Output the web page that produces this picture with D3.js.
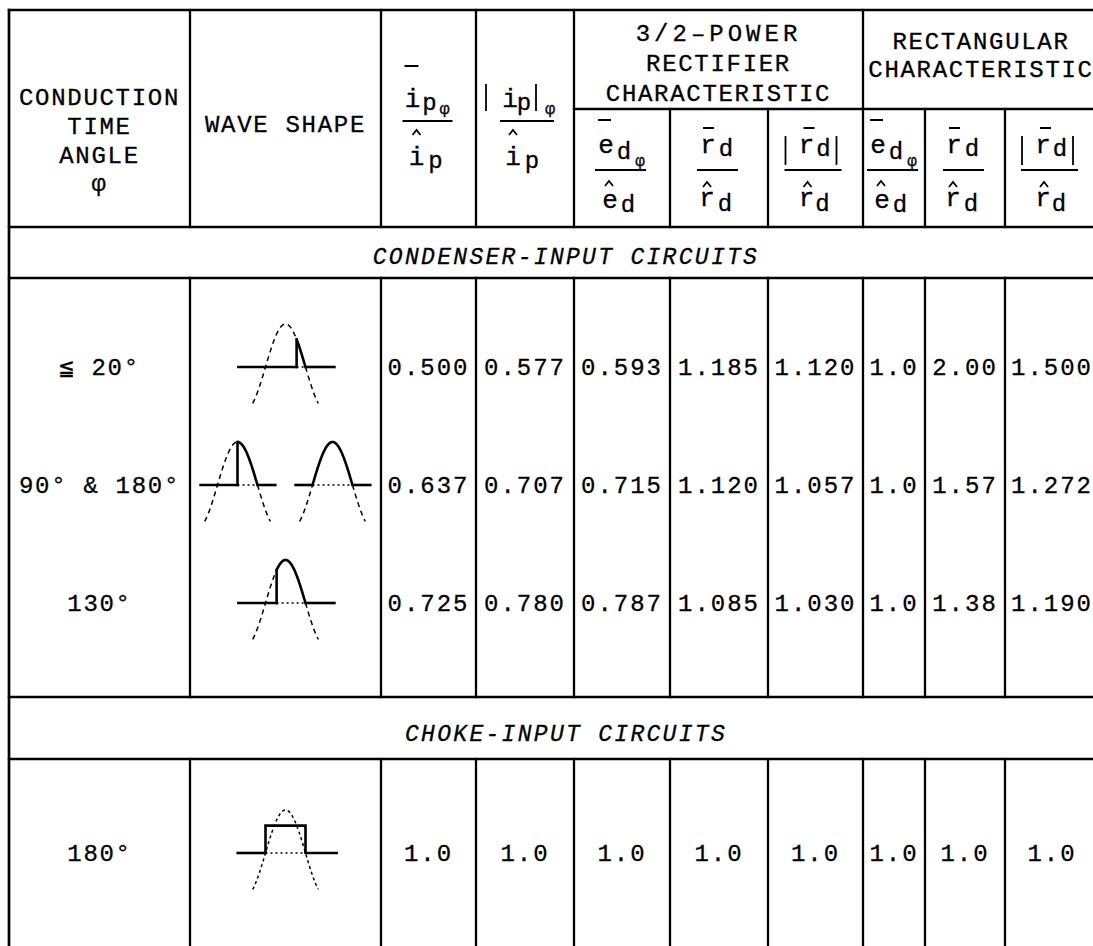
<!DOCTYPE html>
<html><head><meta charset="utf-8">
<script src="https://cdn.jsdelivr.net/npm/d3@7"></script>
<style>body{margin:0;background:#fff}</style>
</head><body>
<svg id="c" width="1093" height="946"></svg>
<script>
// ---------------- data ----------------
const headerLeft = ["CONDUCTION", "TIME", "ANGLE", "φ"];
const headerWave = ["WAVE SHAPE"];
const header32 = ["3/2–POWER", "RECTIFIER", "CHARACTERISTIC"];
const headerRect = ["RECTANGULAR", "CHARACTERISTIC"];
const bandLabels = ["CONDENSER-INPUT CIRCUITS", "CHOKE-INPUT CIRCUITS"];
const condenserAngles = ["≦ 20°", "90° & 180°", "130°"];
const chokeAngles = ["180°"];

const ipMean     = [0.500, 0.637, 0.725];
const ipRms      = [0.577, 0.707, 0.780];
const pow32Ed    = [0.593, 0.715, 0.787];
const pow32Rd    = [1.185, 1.120, 1.085];
const pow32RdAbs = [1.120, 1.057, 1.030];
const rectEd     = [1.0, 1.0, 1.0];
const rectRd     = [2.00, 1.57, 1.38];
const rectRdAbs  = [1.500, 1.272, 1.190];
const colDecimals = [3, 3, 3, 3, 3, 1, 2, 3];
const chokeValues = [1.0, 1.0, 1.0, 1.0, 1.0, 1.0, 1.0, 1.0];
const chokeDecimals = 1;
// conduction intervals (degrees from the crest) for the wave sketches
const condenserWaves = [[[50, 90]], [[0, 90], [-90, 90]], [[-40, 90]]];
const chokeWaves = [[[-90, 90]]];

// ---------------- layout ----------------
const svg = d3.select("#c");
const FONT = "'Liberation Mono','Courier New',monospace";
const X = [9, 190, 381, 476, 574, 670, 768, 863, 925, 1005, 1099];
const W = 1093;
const yTop = 10, ySub = 109, yHead = 227, yBand1 = 278, yBand2a = 697, yBand2b = 759, yBot = 960;
const LW = 2.3;
const FS = 24;

function line(x1, y1, x2, y2, w = LW, dash = null) {
  const l = svg.append("line").attr("x1", x1).attr("y1", y1).attr("x2", x2).attr("y2", y2)
    .attr("stroke", "#000").attr("stroke-width", w).attr("stroke-linecap", "square");
  if (dash) l.attr("stroke-dasharray", dash).attr("stroke-linecap", "butt");
  return l;
}
function txt(x, y, s, size = FS, opt = {}) {
  return svg.append("text").attr("x", x).attr("y", y)
    .attr("text-anchor", opt.anchor || "middle")
    .attr("font-family", FONT).attr("font-size", size)
    .attr("font-style", opt.italic ? "italic" : "normal")
    .attr("letter-spacing", opt.ls != null ? opt.ls : 1.7)
    .attr("fill", "#000").attr("stroke", "#000").attr("stroke-width", opt.sw != null ? opt.sw : 0.3)
    .text(s);
}
// centered text (caps / digits)
function ctxt(x, cy, s, size = FS, opt = {}) { return txt(x, cy + size * 0.35, s, size, opt); }

// ---------------- grid ----------------
line(X[0], yTop, W + 5, yTop);
line(X[4], ySub, W + 5, ySub);
[yHead, yBand1, yBand2a, yBand2b].forEach(y => line(X[0], y, W + 5, y));
line(X[0], yTop, X[0], yBot, 2.7);
[1, 2, 3, 4, 7].forEach(i => line(X[i], yTop, X[i], yHead));
[5, 6, 8, 9].forEach(i => line(X[i], ySub, X[i], yHead));
for (let i = 1; i <= 9; i++) {
  line(X[i], yBand1, X[i], yBand2a);
  line(X[i], yBand2b, X[i], yBot);
}

// ---------------- header ----------------
const mid = i => (X[i] + X[i + 1]) / 2;
const hLeftY = d3.scalePoint().domain(headerLeft).range([97, 183]);
headerLeft.forEach(s => ctxt(mid(0), hLeftY(s), s));
ctxt(mid(1), 124, headerWave[0]);
const h32Y = d3.scalePoint().domain(header32).range([33, 93]);
header32.forEach(s => ctxt((X[4] + X[7]) / 2, h32Y(s), s, FS, {ls: s.startsWith("3/2") ? 4 : 1.7}));
const hRectY = d3.scalePoint().domain(headerRect).range([41, 69]);
headerRect.forEach(s => ctxt((X[7] + X[10]) / 2, hRectY(s), s));

function hat(x, y) {
  svg.append("path").attr("d", `M${x - 4},${y + 5}L${x},${y}L${x + 4},${y + 5}`)
    .attr("fill", "none").attr("stroke", "#000").attr("stroke-width", 1.8);
}
function vbar(x, y1, y2) { line(x, y1, x, y2, 1.8); }

// main header fractions
(function () {
  const c = mid(2);
  txt(c - 16, 107, "i", 26, {ls: 0}); line(c - 23, 66, c - 11, 66, 2);
  txt(c + 1, 110, "p", 24, {ls: 0}); txt(c + 16, 114, "φ", 17, {ls: 0, sw: 0.3});
  line(c - 25, 121, c + 23, 121, 2);
  hat(c - 12, 130); txt(c - 12, 165, "i", 26, {ls: 0}); txt(c + 7, 168, "p", 24, {ls: 0});
})();
(function () {
  const c = mid(3);
  vbar(c - 39, 85, 110);
  txt(c - 15, 107, "i", 26, {ls: 0}); txt(c - 1, 110, "p", 24, {ls: 0});
  vbar(c + 11, 85, 110);
  txt(c + 25, 114, "φ", 17, {ls: 0, sw: 0.3});
  line(c - 24, 121, c + 28, 121, 2);
  hat(c - 12, 130); txt(c - 12, 165, "i", 26, {ls: 0}); txt(c + 7, 168, "p", 24, {ls: 0});
})();

// sub-header fractions
const fl = 170;
function fracE(c) {
  line(c - 23, 120, c - 12, 120, 2);
  txt(c - 16, 153, "e", 26, {ls: 0}); txt(c + 2, 159, "d", 24, {ls: 0}); txt(c + 18, 166, "φ", 16, {ls: 0, sw: 0.3});
  line(c - 26, fl, c + 23, fl, 2);
  hat(c - 13, 181); txt(c - 12, 208, "e", 26, {ls: 0}); txt(c + 6, 212, "d", 24, {ls: 0});
}
function fracR(c) {
  line(c - 15, 128, c - 6, 128, 2);
  txt(c - 11, 153, "r", 26, {ls: 0}); txt(c + 7, 156, "d", 24, {ls: 0});
  line(c - 21, fl, c + 18, fl, 2);
  hat(c - 12, 182); txt(c - 12, 206, "r", 26, {ls: 0}); txt(c + 6, 211, "d", 24, {ls: 0});
}
function fracA(c) {
  vbar(c - 30, 137, 164); vbar(c + 21, 137, 164);
  line(c - 11, 128, c - 2, 128, 2);
  txt(c - 9, 153, "r", 26, {ls: 0}); txt(c + 8, 156, "d", 24, {ls: 0});
  line(c - 30, fl, c + 25, fl, 2);
  hat(c - 8, 182); txt(c - 9, 206, "r", 26, {ls: 0}); txt(c + 7, 211, "d", 24, {ls: 0});
}
fracE(mid(4)); fracR(mid(5)); fracA(mid(6));
fracE(mid(7)); fracR(mid(8)); fracA(mid(9));

// ---------------- band labels ----------------
ctxt(566, 256, bandLabels[0], 23, {italic: true, ls: 2.3});
ctxt(566, 733, bandLabels[1], 23, {italic: true, ls: 2.3});

// ---------------- body ----------------
const valueCols = [ipMean, ipRms, pow32Ed, pow32Rd, pow32RdAbs, rectEd, rectRd, rectRdAbs];
const rowY = d3.scalePoint().domain(condenserAngles).range([367, 603]);
condenserAngles.forEach((a, r) => {
  const cy = rowY(a);
  ctxt(mid(0), cy, a);
  valueCols.forEach((col, j) => ctxt(mid(j + 2), cy, d3.format(`.${colDecimals[j]}f`)(col[r]), FS, {ls: 2}));
});
const chokeY = d3.scalePoint().domain(chokeAngles).range([853, 853]);
chokeAngles.forEach(a => {
  const cy = chokeY(a);
  ctxt(mid(0), cy, a);
  chokeValues.forEach((v, j) => ctxt(mid(j + 2), cy, d3.format(`.${chokeDecimals}f`)(v), FS, {ls: 2}));
});

// ---------------- wave sketches ----------------
function wave(cx, cy, iv, baseRange, kind) {
  const xs = d3.scaleLinear().domain([-90, 90]).range([cx - 20, cx + 20]);
  const ys = d3.scaleLinear().domain([0, 1]).range([cy, cy - 43]);
  const f = p => Math.cos(p * Math.PI / 180);
  const curve = (a, b) => d3.line().x(p => xs(p)).y(p => ys(f(p)))(d3.range(a, b, 2).concat([b]));
  const path = (d, w, dash) => {
    const p = svg.append("path").attr("d", d).attr("fill", "none").attr("stroke", "#000").attr("stroke-width", w);
    if (dash) p.attr("stroke-dasharray", dash);
  };
  const [a, b] = iv;
  if (kind === "rect") {
    path(curve(-148, 148), 1.5, "3,3");
    const h = 2 / Math.PI;
    path(`M${xs(a)},${cy}L${xs(a)},${ys(h)}L${xs(b)},${ys(h)}L${xs(b)},${cy}`, 2.6);
  } else {
    path(curve(-148, a), 1.5, "5,4");
    path(curve(b, 148), 1.5, "5,4");
    path(curve(a, b), 2.6);
    if (a > -90) line(xs(a), cy, xs(a), ys(f(a)), 2.6);
  }
  line(xs(baseRange[0]), cy, xs(a), cy, 2.6);
  line(xs(a), cy, xs(b), cy, 1.6, "2,3");
  line(xs(b), cy, xs(baseRange[1]), cy, 2.6);
}
const wc = mid(1);
condenserWaves.forEach((ws, r) => {
  const cy = rowY(condenserAngles[r]);
  if (ws.length === 1) wave(wc, cy, ws[0], [-212, 220], "sine");
  else ws.forEach((iv, k) => wave(wc + (k === 0 ? -48 : 47), cy, iv, [-166, 170], "sine"));
});
chokeWaves.forEach((ws, r) => wave(wc, chokeY(chokeAngles[r]), ws[0], [-215, 230], "rect"));
</script>
</body></html>
